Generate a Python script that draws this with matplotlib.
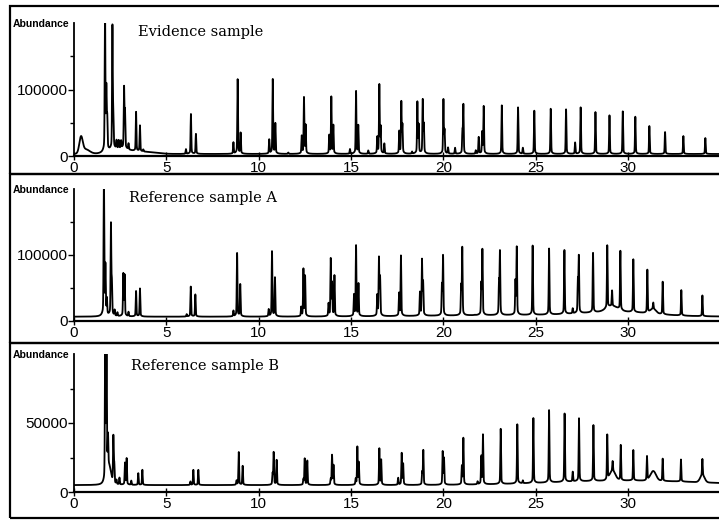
import numpy as np
import matplotlib
matplotlib.use("Agg")
import matplotlib.pyplot as plt
from matplotlib.patches import Rectangle

# ---------------- data (retention time in min, apex abundance) ----------------
titles = ["Evidence sample", "Reference sample A", "Reference sample B"]
x_ticks = [0, 5, 10, 15, 20, 25, 30]
x_tick_labels = ["0", "5", "10", "15", "20", "25", "30"]

ev_times = [1.68, 1.75, 1.80, 2.08, 2.13, 2.30, 2.42, 2.55, 2.71, 2.76, 2.95, 3.36, 3.57, 3.75,
            6.06, 6.33, 6.60, 8.63, 8.86, 9.02, 10.57, 10.76, 10.90, 11.60, 12.33, 12.45, 12.54,
            13.82, 13.93, 14.04, 14.94, 15.27, 15.39, 15.93, 16.42, 16.53, 16.60, 16.80, 17.61,
            17.72, 17.78, 18.30, 18.59, 18.66, 18.88, 18.94, 20.00, 20.06, 20.25, 20.63, 21.03,
            21.08, 21.75, 21.91, 22.10, 22.18, 23.16, 24.04, 24.30, 24.92, 25.81, 26.64, 27.13,
            27.43, 28.23, 28.99, 29.71, 30.39, 31.15, 32.00, 32.99, 34.18]
ev_heights = [215000, 95000, 50000, 188000, 55000, 15000, 15000, 14000, 94000, 58000, 12000, 62000, 42000, 6000,
              10000, 63000, 33000, 20000, 115000, 34000, 24000, 115000, 48000, 5000, 29000, 87000, 45000,
              30000, 88000, 45000, 10000, 97000, 45000, 8000, 27000, 106000, 42000, 18000, 36000,
              80000, 45000, 6000, 80000, 45000, 83000, 46000, 84000, 37000, 12000, 12000, 36000,
              76000, 8000, 28000, 35000, 74000, 76000, 73000, 12000, 68000, 71000, 70000, 20000,
              73000, 66000, 61000, 67000, 59000, 45000, 36000, 30000, 27000]
ev_base = 3000
ev_hump_times = [0.38, 0.62, 2.50, 3.80]
ev_hump_heights = [23000, 7000, 7000, 3000]
ev_hump_widths = [0.09, 0.22, 0.50, 0.60]

a_times = [1.62, 1.70, 1.78, 2.00, 2.05, 2.20, 2.35, 2.67, 2.74, 2.95, 3.36, 3.57,
           6.10, 6.32, 6.57, 8.63, 8.83, 9.00, 10.54, 10.72, 10.88, 12.30, 12.42, 12.51,
           13.78, 13.90, 13.97, 14.10, 15.16, 15.27, 15.40, 16.42, 16.51, 16.57, 17.20, 17.60,
           17.70, 18.73, 18.84, 18.90, 19.92, 19.98, 20.96, 21.02, 21.70, 22.05, 22.11, 23.01,
           23.06, 23.90, 23.97, 24.83, 25.72, 26.55, 27.00, 27.28, 27.33, 28.10, 28.87, 29.13,
           29.58, 30.28, 31.04, 31.36, 31.87, 32.88, 34.02]
a_heights = [215000, 80000, 30000, 145000, 55000, 15000, 12000, 70000, 68000, 13000, 45000, 49000,
             10000, 52000, 40000, 15000, 102500, 55000, 17000, 105000, 65000, 20000, 77600, 67000,
             25000, 92500, 55000, 67600, 38000, 113000, 55000, 37000, 93500, 64000, 5000, 40000,
             97500, 41000, 90000, 56000, 52000, 96500, 50000, 108500, 7000, 53000, 105000, 55000,
             101500, 57000, 108500, 111500, 106500, 103500, 14000, 55000, 91500, 96500, 101500, 30000,
             96000, 86500, 71600, 16000, 56000, 45000, 38000]
a_base = 6500
a_hump_times = [29.13, 29.50, 25.00, 31.36]
a_hump_heights = [8000, 6000, 2500, 7000]
a_hump_widths = [0.30, 1.80, 5.00, 0.15]

b_times = [1.69, 1.76, 1.84, 2.13, 2.18, 2.30, 2.46, 2.76, 2.85, 3.10, 3.48, 3.70,
           6.30, 6.46, 6.73, 8.80, 8.92, 9.13, 10.75, 10.81, 10.97, 12.42, 12.49, 12.63,
           13.90, 13.97, 14.05, 15.25, 15.34, 15.42, 16.53, 16.63, 17.55, 17.74, 17.82, 18.85,
           18.91, 19.96, 20.03, 21.00, 21.08, 21.85, 22.05, 22.14, 23.10, 24.00, 24.30, 24.87,
           25.72, 26.56, 27.00, 27.34, 28.12, 28.87, 29.16, 29.60, 30.28, 31.02, 31.87, 32.86, 34.02]
b_heights = [110000, 105000, 28000, 39000, 19000, 8000, 10000, 20700, 24000, 8000, 13500, 16000,
             7500, 16000, 16000, 8000, 28800, 18800, 13000, 28500, 23000, 9000, 24000, 22500,
             9000, 26400, 19000, 9000, 32400, 21000, 31200, 23000, 10000, 27800, 20000, 14000,
             30000, 28800, 24000, 18000, 38600, 7000, 25000, 40700, 45000, 47900, 7000, 52100,
             57400, 54500, 12000, 50700, 45500, 37400, 12000, 30700, 27100, 22400, 21200, 21000, 17000]
b_base = 5000
b_hump_times = [1.90, 29.16, 31.36, 34.02, 30.00]
b_hump_heights = [12000, 7000, 7000, 5000, 3300]
b_hump_widths = [0.10, 0.15, 0.15, 0.12, 4.00]

y_maxes = [200000, 200000, 100000]
y_major = [[0, 100000], [0, 100000], [0, 50000]]
y_major_labels = [["0", "100000"], ["0", "100000"], ["0", "50000"]]
y_minor = [[50000, 150000], [50000, 150000], [25000, 75000]]

panels = [
    (ev_times, ev_heights, ev_base, ev_hump_times, ev_hump_heights, ev_hump_widths),
    (a_times, a_heights, a_base, a_hump_times, a_hump_heights, a_hump_widths),
    (b_times, b_heights, b_base, b_hump_times, b_hump_heights, b_hump_widths),
]

# ---------------- layout ----------------
W, H = 719, 521
fig = plt.figure(figsize=(W / 100, H / 100), dpi=100)
X_MAX = 34.92
ax_px = [(156, 23), (321, 189), (492, 354)]
frames_px = [(6, 174), (174, 343), (343, 518)]
title_px = [(138, 36), (129, 202), (131, 370)]
left_px = 74

t = np.linspace(0, X_MAX, 20000)
SIG = 0.018
GAM = 0.07


def trace(times, heights, base, ht, hh, hw):
    y = np.full_like(t, float(base))
    for c, h, w in zip(ht, hh, hw):
        y += h * np.exp(-0.5 * ((t - c) / w) ** 2)
    for c, h in zip(times, heights):
        amp = max(h - base, 0)
        d = t - c
        y += amp * (0.92 * np.exp(-0.5 * (d / SIG) ** 2) + 0.08 * GAM ** 2 / (d ** 2 + GAM ** 2))
    return y


tick_font = {"family": ["Liberation Sans", "DejaVu Sans"], "size": 11}

for i, (times, heights, base, ht, hh, hw) in enumerate(panels):
    zero_y, top_y = ax_px[i]
    ax = fig.add_axes([left_px / W, (H - zero_y) / H, (W - left_px) / W, (zero_y - top_y) / H])
    y = trace(times, heights, base, ht, hh, hw)
    ax.plot(t, y, color="black", lw=1.3)
    ax.set_xlim(0, X_MAX)
    ax.set_ylim(0, y_maxes[i])
    for s in ["top", "right"]:
        ax.spines[s].set_visible(False)
    ax.spines["left"].set_linewidth(1.3)
    ax.spines["bottom"].set_linewidth(1.6)
    ax.set_xticks(x_ticks)
    ax.set_xticklabels(x_tick_labels, fontdict=tick_font)
    ax.set_yticks(y_major[i])
    ax.set_yticklabels(y_major_labels[i], fontdict=tick_font)
    ax.set_yticks(y_minor[i], minor=True)
    ax.tick_params(axis="x", direction="inout", length=6, width=1.0, pad=0.5)
    ax.tick_params(axis="y", which="major", direction="out", length=4, width=1.0, pad=0.5)
    ax.tick_params(axis="y", which="minor", direction="out", length=3, width=1.0)
    ax.annotate("Abundance", xy=(0, 1), xycoords="axes fraction", xytext=(-3, -1),
                textcoords="offset points", ha="right", va="center",
                fontsize=7.5, fontweight="bold", family=["Liberation Sans", "DejaVu Sans"])
    tx, ty = title_px[i]
    fig.text(tx / W, 1 - ty / H, titles[i], ha="left", va="baseline",
             fontsize=10.5, family=["DejaVu Serif"])
    fy0, fy1 = frames_px[i]
    fig.add_artist(Rectangle((10 / W, 1 - fy1 / H), 1.2, (fy1 - fy0) / H,
                             transform=fig.transFigure, fill=False, ec="black", lw=1.6))

fig.savefig("out.png", dpi=100)
